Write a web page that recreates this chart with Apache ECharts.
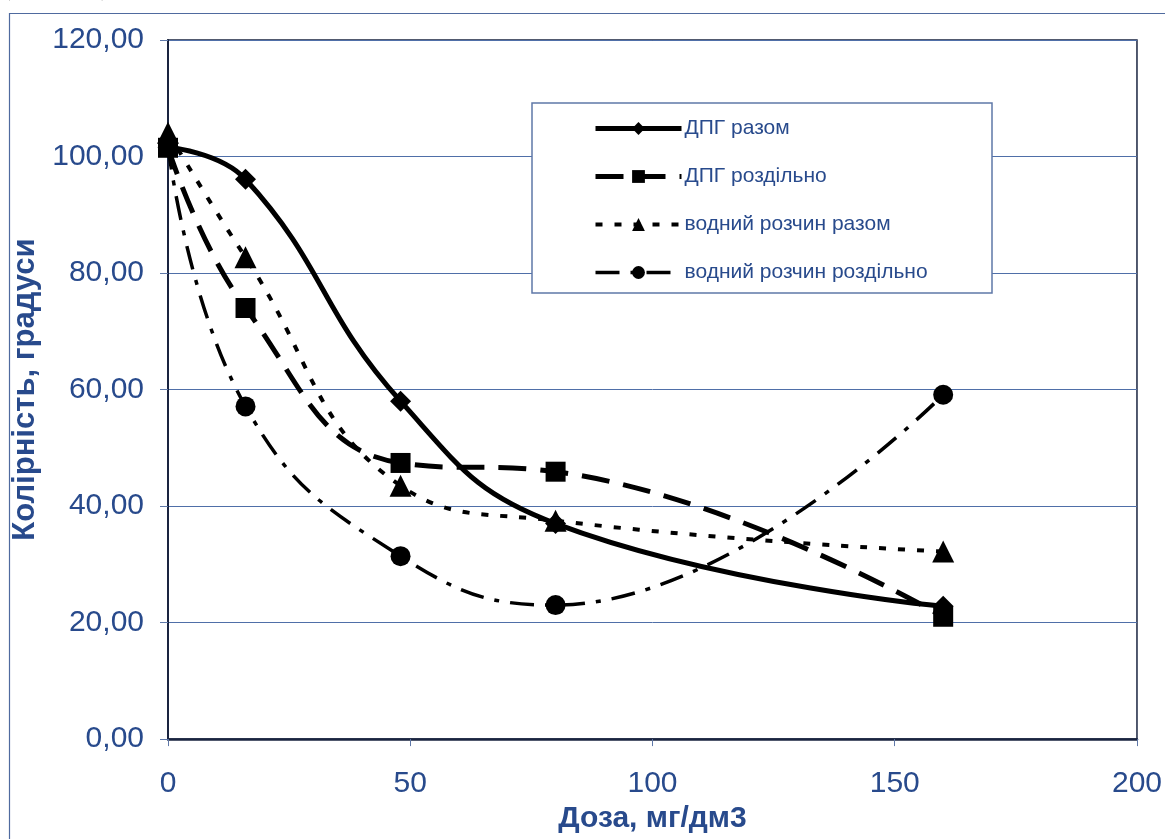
<!DOCTYPE html>
<html><head><meta charset="utf-8">
<script src="https://cdn.jsdelivr.net/npm/echarts@6/dist/echarts.min.js"></script>
<style>html,body{margin:0;padding:0;background:#fff}#c{width:1165px;height:839px}</style>
</head><body><div id="c"></div>
<script>
const doses = [0, 16, 48, 80, 160];
const dpgTogether = [101.6, 96.1, 58.0, 37.0, 22.8];
const dpgSeparate = [101.5, 74.0, 47.4, 45.9, 21.0];
const waterTogether = [104.1, 82.7, 43.5, 37.5, 32.2];
const waterSeparate = [101.8, 57.1, 31.4, 23.0, 59.1];
const seriesNames = ['ДПГ разом', 'ДПГ роздільно', 'водний розчин разом', 'водний розчин роздільно'];
const yTicks = [0, 20, 40, 60, 80, 100, 120];
const xTicks = [0, 50, 100, 150, 200];

const blue = '#284A8C';
const pair = arr => doses.map((d, i) => [d, arr[i]]);
const lineWidths = [5, 5, 4, 3.5];
const chart = echarts.init(document.getElementById('c'));
chart.setOption({
  animation: false,
  backgroundColor: '#fff',
  grid: { left: 168, top: 40, width: 974, height: 704, show: true, borderColor: '#1a2440', borderWidth: 1.5, backgroundColor: 'transparent' },
  graphic: [
    { type: 'rect', shape: { x: 9.5, y: 13.5, width: 1170, height: 840 }, style: { fill: 'none', stroke: '#4F6A9F', lineWidth: 1.2 }, silent: true, z: -1 },
    { type: 'rect', shape: { x: 532, y: 103, width: 460, height: 190 }, style: { fill: '#fff', stroke: '#5F78A8', lineWidth: 1.5 }, silent: true, z: 3 },
    { type: 'text', left: 2, top: -25, style: { text: '(рисунку),', font: '26px "Liberation Serif", serif', fill: '#000' }, silent: true, z: 3 }
  ],
  legend: {
    orient: 'vertical', left: 593, top: 118, padding: 0,
    itemWidth: 86, itemHeight: 16, itemGap: 27,
    textStyle: { fontFamily: 'Liberation Sans, Arial', fontSize: 21, lineHeight: 20, color: blue, padding: [0, 0, 0, -2] },
    z: 5,
    data: seriesNames.map((n, i) => ({ name: n, lineStyle: { width: lineWidths[i] } }))
  },
  xAxis: {
    type: 'value', min: 0, max: 200, interval: 50,
    name: 'Доза, мг/дм3', nameLocation: 'middle', nameGap: 56,
    nameTextStyle: { fontFamily: 'Liberation Sans, Arial', fontWeight: 'bold', fontSize: 30, color: blue },
    axisLine: { show: true, lineStyle: { color: '#1a2440', width: 2.5 } },
    axisTick: { show: true, length: 7, lineStyle: { color: '#5F78A8' } },
    axisLabel: { margin: 30, fontFamily: 'Liberation Sans, Arial', fontSize: 30, color: blue, formatter: v => xTicks.includes(v) ? String(v) : '' },
    splitLine: { show: false }
  },
  yAxis: {
    type: 'value', min: 0, max: 120, interval: 20,
    name: 'Колірність, градуси', nameLocation: 'middle', nameGap: 114, nameRotate: 90,
    nameTextStyle: { fontFamily: 'Liberation Sans, Arial', fontWeight: 'bold', fontSize: 31, color: blue },
    axisLine: { show: true, lineStyle: { color: '#1a2440', width: 2 } },
    axisTick: { show: true, length: 8, lineStyle: { color: '#5F78A8' } },
    axisLabel: { margin: 24, fontFamily: 'Liberation Sans, Arial', fontSize: 30, color: blue,
      formatter: v => yTicks.includes(v) ? v.toFixed(2).replace('.', ',') : '' },
    splitLine: { show: true, lineStyle: { color: '#4F6FA8', width: 1 } }
  },
  series: [
    { name: seriesNames[0], type: 'line', data: pair(dpgTogether), smooth: 0.45,
      symbol: 'diamond', symbolSize: 21, itemStyle: { color: '#000' },
      lineStyle: { color: '#000', width: lineWidths[0], type: 'solid' }, z: 4 },
    { name: seriesNames[1], type: 'line', data: pair(dpgSeparate), smooth: 0.45,
      symbol: 'rect', symbolSize: 20, itemStyle: { color: '#000' },
      lineStyle: { color: '#000', width: lineWidths[1], type: [28, 14] }, z: 3 },
    { name: seriesNames[2], type: 'line', data: pair(waterTogether), smooth: 0.45,
      symbol: 'triangle', symbolSize: 22, itemStyle: { color: '#000' },
      lineStyle: { color: '#000', width: lineWidths[2], type: [7, 12] }, z: 5 },
    { name: seriesNames[3], type: 'line', data: pair(waterSeparate), smooth: 0.45,
      symbol: 'circle', symbolSize: 20, itemStyle: { color: '#000' },
      lineStyle: { color: '#000', width: lineWidths[3], type: [24, 11, 5, 11] }, z: 2 }
  ]
});
</script></body></html>
